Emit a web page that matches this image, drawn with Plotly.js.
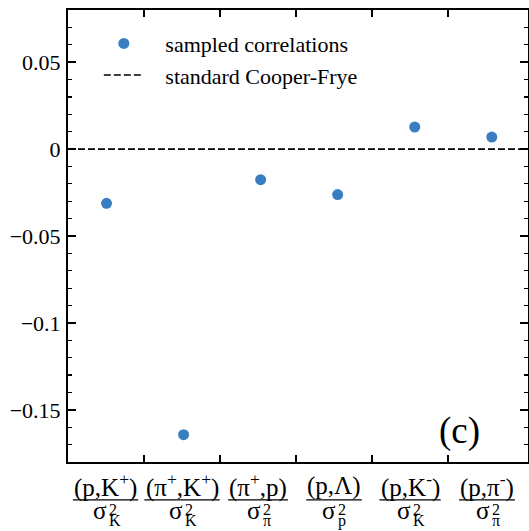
<!DOCTYPE html>
<html>
<head>
<meta charset="utf-8">
<script src="https://cdn.plot.ly/plotly-3.0.1.min.js"></script>
<style>
  html, body { margin: 0; padding: 0; background: #fff; }
  #chart { width: 529px; height: 531px; }
</style>
</head>
<body>
<div id="chart"></div>
<script>
// ---- data ----
const pointX = [1, 2, 3, 4, 5, 6];
const sampledCorrelations = [-0.0312, -0.1643, -0.0176, -0.0262, 0.0127, 0.0069];
const cooperFrye = 0;
const xRange = [0.5, 6.47];
const yRange = [-0.18, 0.08];
const yTickVals = [-0.15, -0.1, -0.05, 0, 0.05];
const yTickText = ['−0.15', '−0.1', '−0.05', '0', '0.05'];
const tickPositions = [1.486, 2.472, 3.459, 4.445, 5.432];
const labelPositions = [0.987, 1.98, 2.966, 3.952, 4.939, 5.938];
const numerators = ['(p,K<sup>+</sup>)', '(π<sup>+</sup>,K<sup>+</sup>)', '(π<sup>+</sup>,p)', '(p,Λ)', '(p,K<sup>-</sup>)', '(p,π<sup>-</sup>)'];
const denomSubs = ['K', 'K', 'π', 'p', 'K', 'π'];
const seriesNames = ['sampled correlations', 'standard Cooper-Frye'];
const panelLabel = '(c)';

const FONT = "'Liberation Serif', serif";
const numY = -0.053, barY = -0.084, sigY = -0.108, supY = -0.1045, subY = -0.13;
const W = 529, H = 531, M = {l: 68, r: 1, t: 10, b: 69};

// measure numerator widths (for the fraction bars) with a canvas
const ctx = document.createElement('canvas').getContext('2d');
function textWidth(html, size) {
  let w = 0;
  html.split(/(<sup>.*?<\/sup>)/).forEach(part => {
    if (!part) return;
    const m = part.match(/^<sup>(.*)<\/sup>$/);
    const fs = m ? size * 0.7 : size;
    ctx.font = fs + "px 'Liberation Serif', serif";
    w += ctx.measureText(m ? m[1] : part).width;
  });
  return w;
}
const pxPerUnit = (W - M.l - M.r) / (xRange[1] - xRange[0]);

const annotations = [];
const shapes = [];
labelPositions.forEach((lx, i) => {
  annotations.push({x: lx, y: numY, xref: 'x', yref: 'paper', text: numerators[i], showarrow: false,
    xanchor: 'center', yanchor: 'middle', borderpad: 0, font: {size: 25}});
  const s = denomSubs[i] === 'K' ? 2 : 3.5;
  annotations.push({x: lx, y: sigY, xref: 'x', yref: 'paper', text: 'σ', showarrow: false, xshift: s,
    xanchor: 'right', yanchor: 'middle', borderpad: 0, font: {size: 25}});
  annotations.push({x: lx, y: supY, xref: 'x', yref: 'paper', text: '2', showarrow: false, xshift: s,
    xanchor: 'left', yanchor: 'middle', borderpad: 0, font: {size: 16}});
  annotations.push({x: lx, y: subY, xref: 'x', yref: 'paper', text: denomSubs[i], showarrow: false, xshift: s,
    xanchor: 'left', yanchor: 'middle', borderpad: 0, font: {size: 16}});
  const half = (textWidth(numerators[i], 25) / 2 + 1) / pxPerUnit;
  shapes.push({type: 'line', xref: 'x', yref: 'paper', x0: lx - half, x1: lx + half, y0: barY, y1: barY,
    line: {color: '#000', width: 1.3}});
});
annotations.push({x: 0.85, y: 0.068, xref: 'paper', yref: 'paper', text: panelLabel, showarrow: false,
  xanchor: 'center', yanchor: 'middle', font: {size: 37}});

const traces = [
  {x: pointX, y: sampledCorrelations, type: 'scatter', mode: 'markers', name: '   ' + seriesNames[0],
   marker: {color: '#3a7ec2', size: 11}},
  {x: xRange, y: [cooperFrye, cooperFrye], type: 'scatter', mode: 'lines', name: '   ' + seriesNames[1],
   line: {color: '#000', width: 1.6, dash: '7px,3px'}}
];

const layout = {
  width: W, height: H,
  margin: M,
  font: {family: FONT, size: 22, color: '#000'},
  legend: {x: 0.067, y: 0.972, xanchor: 'left', yanchor: 'top', bgcolor: 'rgba(0,0,0,0)', itemwidth: 40,
    tracegroupgap: 0},
  xaxis: {range: xRange, showgrid: false, zeroline: false, showline: true, linecolor: '#000', linewidth: 2,
    mirror: 'ticks', ticks: 'inside', ticklen: 7, tickwidth: 1.5, tickcolor: '#000',
    tickvals: tickPositions, showticklabels: false},
  yaxis: {range: yRange, showgrid: false, zeroline: false, showline: true, linecolor: '#000', linewidth: 2,
    mirror: 'ticks', ticks: 'inside', ticklen: 8, tickwidth: 1.5, tickcolor: '#000',
    tickvals: yTickVals, ticktext: yTickText, ticklabelstandoff: 1,
    minor: {dtick: 0.01, tick0: 0, ticks: 'inside', ticklen: 4, tickwidth: 1.2, tickcolor: '#000', showgrid: false}},
  annotations: annotations,
  shapes: shapes
};

Plotly.newPlot('chart', traces, layout, {displayModeBar: false, staticPlot: true});
</script>
</body>
</html>
